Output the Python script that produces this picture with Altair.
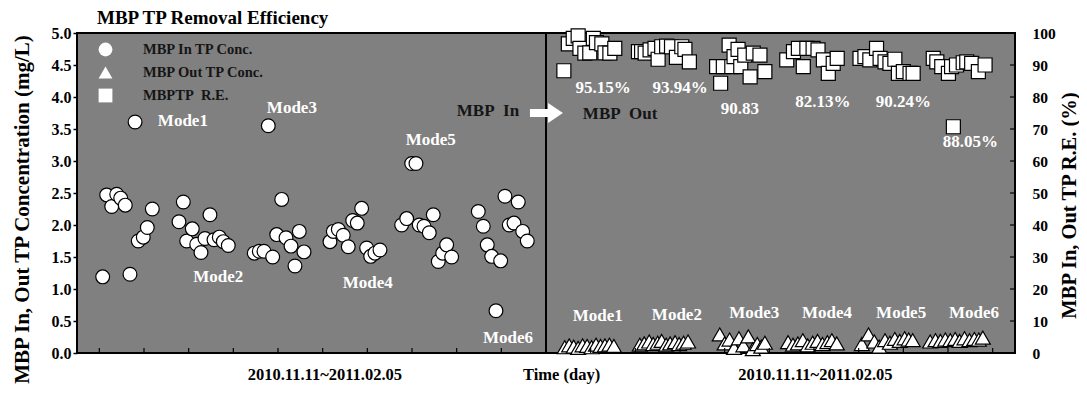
import altair as alt
import pandas as pd

FONT = "Liberation Serif"

# ---- MBP In TP concentration (circles, left axis, mg/L) ----
in_x = [5.75, 6.65, 7.77, 8.89, 9.78, 10.81, 11.86, 13.0, 13.72, 14.84, 15.74, 16.86,
        22.83, 23.80, 24.56, 25.81, 26.80, 27.76, 28.65, 29.77, 30.67, 31.86, 32.75, 33.87,
        39.69, 40.81, 41.86, 42.83, 43.81, 44.71, 45.83, 46.79, 47.91, 48.80, 49.77, 50.82,
        56.64, 57.38, 58.50, 59.61, 60.73, 61.72, 62.75, 63.73, 64.85, 65.75, 66.71, 67.83,
        72.69, 73.81, 74.93, 75.89, 76.63, 77.68, 78.87, 79.76, 80.88, 81.87, 82.76, 83.88,
        89.84, 90.96, 91.85, 92.84, 93.80, 94.85, 95.81, 96.78, 97.83, 98.79, 99.78, 100.81]
in_y = [1.19, 2.47, 2.29, 2.48, 2.42, 2.31, 1.23, 3.61, 1.75, 1.81, 1.96, 2.25,
        2.05, 2.36, 1.75, 1.94, 1.70, 1.57, 1.79, 2.16, 1.77, 1.81, 1.74, 1.68,
        1.56, 1.59, 1.59, 3.55, 1.50, 1.85, 2.40, 1.80, 1.67, 1.36, 1.90, 1.58,
        1.74, 1.90, 1.93, 1.84, 1.66, 2.07, 2.03, 2.26, 1.64, 1.51, 1.56, 1.61,
        2.00, 2.10, 2.96, 2.96, 2.00, 1.98, 1.88, 2.16, 1.43, 1.56, 1.69, 1.50,
        2.21, 1.98, 1.69, 1.51, 0.66, 1.44, 2.45, 2.00, 2.03, 2.36, 1.90, 1.75]

# ---- MBP Out TP concentration (triangles, left axis, mg/L) ----
out_x = [109.2, 110.2, 111.2, 112.2, 113.2, 114.2, 115.2, 116.2, 117.2, 118.2, 119.2, 120.2,
         126.0, 127.0, 128.1, 129.0, 130.0, 130.9, 131.9, 132.8, 133.9, 134.8, 135.8, 136.8,
         143.9, 145.0, 146.1, 147.1, 148.2, 149.2, 150.3, 151.3, 152.3, 153.2, 154.0,
         159.2, 160.3, 161.4, 162.5, 163.6, 164.7, 165.8, 166.9, 168.0, 169.0, 170.1,
         175.7, 177.2, 178.5, 179.6, 180.9, 182.0, 183.1, 184.2, 185.3, 186.2, 187.1,
         191.0, 192.2, 193.3, 194.4, 195.5, 196.6, 197.6, 198.7, 199.8, 200.9, 201.9, 202.8]
out_y = [0.09, 0.12, 0.10, 0.08, 0.12, 0.11, 0.09, 0.13, 0.11, 0.12, 0.13, 0.11,
         0.13, 0.15, 0.18, 0.14, 0.16, 0.19, 0.13, 0.15, 0.17, 0.14, 0.16, 0.18,
         0.29, 0.15, 0.21, 0.08, 0.23, 0.12, 0.26, 0.06, 0.14, 0.10, 0.16,
         0.17, 0.13, 0.15, 0.20, 0.12, 0.16, 0.19, 0.14, 0.17, 0.20, 0.15,
         0.14, 0.29, 0.18, 0.10, 0.20, 0.16, 0.22, 0.19, 0.23, 0.21, 0.20,
         0.18, 0.20, 0.19, 0.21, 0.20, 0.22, 0.19, 0.23, 0.20, 0.22, 0.21, 0.24]

# ---- TP removal efficiency (squares, right axis, %) ----
re_x = [109.0, 110.0, 111.1, 112.2, 112.6, 113.7, 114.8, 115.6, 116.3, 117.5, 118.2, 119.3, 120.4,
        125.7, 126.4, 127.2, 128.3, 129.4, 130.1, 130.9, 132.0, 133.1, 134.2, 135.4, 136.1, 137.1,
        143.2, 144.1, 144.7, 146.0, 146.6, 147.1, 148.0, 148.6, 149.5, 150.7, 151.4, 152.9, 154.0,
        158.9, 160.4, 161.5, 162.6, 163.4, 164.8, 165.9, 167.1, 168.2, 169.3, 170.2,
        175.3, 176.4, 177.5, 179.0, 179.8, 180.9, 182.0, 183.1, 183.9, 185.0, 186.5, 187.2,
        191.7, 192.5, 193.6, 195.1, 195.8, 196.2, 196.9, 198.4, 199.2, 200.3, 201.8, 203.3]
re_y = [88.2, 96.6, 98.3, 99.1, 95.2, 93.7, 93.8, 98.3, 97.0, 96.6, 93.8, 93.7, 95.2,
        94.2, 94.2, 93.7, 94.7, 95.2, 91.8, 95.7, 95.9, 95.7, 92.4, 95.7, 94.9, 91.0,
        89.5, 84.3, 89.5, 96.2, 89.5, 92.6, 94.9, 89.5, 93.1, 86.3, 93.7, 93.1, 87.9,
        91.6, 94.2, 95.2, 89.5, 95.2, 95.2, 94.7, 91.6, 87.4, 90.5, 92.1,
        92.1, 92.6, 91.6, 95.2, 92.1, 91.0, 90.5, 91.8, 87.4, 87.9, 87.4, 87.4,
        92.1, 91.0, 89.5, 87.4, 89.5, 70.7, 90.0, 90.7, 91.0, 90.5, 87.9, 90.0]

series_names = ["MBP In TP Conc.", "MBP Out TP Conc.", "MBPTP\u00a0 R.E."]
series_shapes = ["circle", "triangle-up", "square"]

# ---- annotations ----
white_labels = ["Mode1", "Mode2", "Mode3", "Mode4", "Mode5", "Mode6",
                "95.15%", "93.94%", "90.83", "82.13%", "90.24%", "88.05%",
                "Mode1", "Mode2", "Mode3", "Mode4", "Mode5", "Mode6"]
white_x = [23.7, 31.6, 48.1, 65.1, 79.2, 96.5,
           117.8, 135.0, 148.4, 167.0, 185.0, 200.0,
           116.6, 134.3, 151.6, 167.9, 184.5, 200.8]
white_y = [3.62, 1.19, 3.83, 1.09, 3.33, 0.23,
           4.14, 4.14, 3.81, 3.92, 3.92, 3.30,
           0.58, 0.59, 0.62, 0.62, 0.62, 0.62]
black_labels = ["MBP\u00a0 In", "MBP\u00a0 Out"]
black_x = [92.0, 121.6]
black_y = [3.78, 3.73]
bottom_labels = ["2010.11.11~2011.02.05", "Time (day)", "2010.11.11~2011.02.05"]
bottom_x = [55.5, 108.5, 165.3]
x_ticks = [5, 15, 25, 35, 45, 55, 65, 75, 85, 95,
           115, 125, 135, 145, 155, 165, 175, 185, 195, 205]
left_ticks = [0.0, 0.5, 1.0, 1.5, 2.0, 2.5, 3.0, 3.5, 4.0, 4.5, 5.0]
right_ticks = [0, 10, 20, 30, 40, 50, 60, 70, 80, 90, 100]

W, H = 938, 320

df_in = pd.DataFrame({"x": in_x, "y": in_y, "series": series_names[0]})
df_out = pd.DataFrame({"x": out_x, "y": out_y, "series": series_names[1]})
df_re = pd.DataFrame({"x": re_x, "y": re_y, "series": series_names[2]})
df_white = pd.DataFrame({"x": white_x, "y": white_y, "t": white_labels})
df_black = pd.DataFrame({"x": black_x, "y": black_y, "t": black_labels})
df_bottom = pd.DataFrame({"x": bottom_x, "t": bottom_labels})
df_xt = pd.DataFrame({"x": x_ticks})
df_rt = pd.DataFrame({"y": right_ticks})

xs = alt.Scale(domain=[0, 210], nice=False, zero=False)
ysl = alt.Scale(domain=[0, 5], nice=False)
ysr = alt.Scale(domain=[0, 100], nice=False)

left_axis = alt.Axis(title="MBP In, Out TP Concentration (mg/L)", values=left_ticks, format=".1f",
                     grid=False, domain=False, tickSize=4, tickColor="black", tickWidth=1.5,
                     labelFont=FONT, labelFontSize=16, labelFontWeight="bold", labelColor="black",
                     labelPadding=2, titleFont=FONT, titleFontSize=21, titleFontWeight="bold",
                     titleColor="black", titlePadding=19, titleY=176)
right_axis = alt.Axis(orient="right", title="MBP In, Out TP R.E. (%)", values=right_ticks, format="d",
                      grid=False, domain=False, ticks=False, labelPadding=17,
                      labelFont=FONT, labelFontSize=15.5, labelFontWeight="bold", labelColor="black",
                      titleFont=FONT, titleFontSize=20.5, titleFontWeight="bold", titleColor="black",
                      titleAngle=270, titlePadding=24, titleY=172)

X = lambda f: alt.X(f, type="quantitative", scale=xs, axis=None)
YL = lambda f: alt.Y(f, type="quantitative", scale=ysl, axis=left_axis)
YR = lambda f: alt.Y(f, type="quantitative", scale=ysr, axis=right_axis)

shape_enc = alt.Shape("series:N", scale=alt.Scale(domain=series_names, range=series_shapes),
                      legend=alt.Legend(title=None, orient="none", legendX=21, legendY=9,
                                        symbolSize=190, labelFont=FONT, labelFontSize=14.5,
                                        labelFontWeight="bold", labelColor="#151515",
                                        labelOffset=30, rowPadding=5, padding=0,
                                        symbolFillColor="white", symbolStrokeColor="black",
                                        symbolStrokeWidth=1.2))

pt = dict(filled=True, fill="white", stroke="black", strokeWidth=1.2, opacity=1)

circles = alt.Chart(df_in).mark_point(size=190, **pt).encode(x=X("x"), y=YL("y"), shape=shape_enc)
triangles = alt.Chart(df_out).mark_point(size=225, **pt).encode(x=X("x"), y=YL("y"), shape=shape_enc)
squares = alt.Chart(df_re).mark_point(size=196, **pt).encode(x=X("x"), y=YR("y"), shape=shape_enc)

bottom_ticks = alt.Chart(df_xt).mark_rule(color="black", strokeWidth=1.2).encode(
    x=X("x"), y=alt.YDatum(0, type="quantitative", scale=ysl, axis=left_axis), y2=alt.datum(0.08))
divider = alt.Chart(df_xt).mark_rule(color="black", strokeWidth=2).encode(
    x=alt.XDatum(105, type="quantitative", scale=xs, axis=None),
    y=alt.YDatum(0, type="quantitative", scale=ysl, axis=left_axis), y2=alt.datum(5))
arrow = alt.Chart(df_xt.head(1)).mark_point(
    shape="M-1,-0.24L0.1,-0.24L0.1,-0.6L1,0L0.1,0.6L0.1,0.24L-1,0.24Z",
    filled=True, fill="white", strokeWidth=0, size=1089, opacity=1).encode(
    x=alt.XDatum(105.1, type="quantitative", scale=xs, axis=None),
    y=alt.YDatum(3.75, type="quantitative", scale=ysl, axis=left_axis))

white_text = alt.Chart(df_white).mark_text(font=FONT, fontSize=17, fontWeight="bold",
                                           color="white").encode(x=X("x"), y=YL("y"), text="t:N")
black_text = alt.Chart(df_black).mark_text(font=FONT, fontSize=17, fontWeight="bold",
                                           color="#151515").encode(x=X("x"), y=YL("y"), text="t:N")
bottom_text = alt.Chart(df_bottom).mark_text(font=FONT, fontSize=16.5, fontWeight="bold",
                                             color="black", baseline="alphabetic").encode(
    x=X("x"), y=alt.value(H + 27), text="t:N")
title_text = alt.Chart(df_xt.head(1)).mark_text(
    text="MBP TP Removal Efficiency", font=FONT, fontSize=19, fontWeight="bold",
    color="black", align="left").encode(x=alt.value(20), y=alt.value(-15))

right_tick_rules = alt.Chart(df_rt).mark_rule(color="black", strokeWidth=1.2).encode(
    y=YR("y"), x=alt.XDatum(208.9, type="quantitative", scale=xs, axis=None), x2=alt.datum(210))

left_group = alt.layer(circles, triangles, bottom_ticks, divider, arrow, white_text, black_text,
                       bottom_text, title_text)
right_group = alt.layer(squares, right_tick_rules)

chart = alt.layer(left_group, right_group).resolve_scale(y="independent").properties(
    width=W, height=H, autosize=alt.AutoSizeParams(type="none"),
    padding={"left": 69, "top": 25, "right": 64, "bottom": 32},
    background="white"
).configure_view(fill="#808080", stroke="black", strokeWidth=2)

chart.save("out.html", embed_options={"renderer": "svg", "actions": False})
